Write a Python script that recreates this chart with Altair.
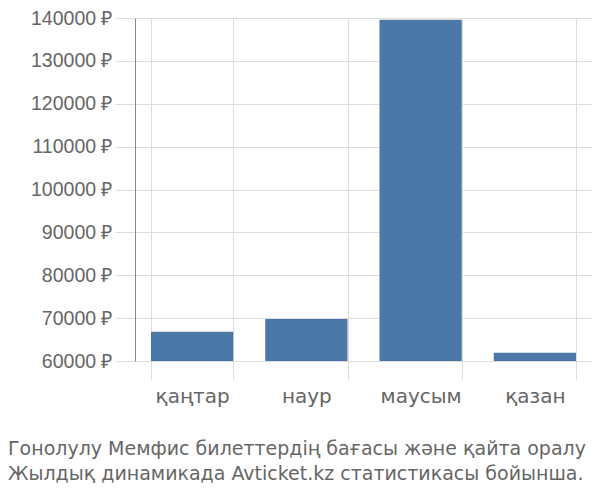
import altair as alt
import pandas as pd

months = ["қаңтар", "наур", "маусым", "қазан"]
prices = [66800, 69800, 139600, 61900]
base = [60000, 60000, 60000, 60000]
title_lines = ["Гонолулу Мемфис билеттердің бағасы және қайта оралу",
               "Жылдық динамикада Avticket.kz статистикасы бойынша."]
y_ticks = [60000, 70000, 80000, 90000, 100000, 110000, 120000, 130000, 140000]

df = pd.DataFrame({"month": months, "price": prices, "base": base})

chart = alt.Chart(df).mark_bar(color="#4c78a8").encode(
    x=alt.X("month:N", sort=months, title=None,
            scale=alt.Scale(paddingInner=0.28, paddingOuter=0.14),
            axis=alt.Axis(tickBand="extent", grid=True, domain=False,
                          tickSize=19, tickColor="#dddddd", gridColor="#dddddd",
                          labelAngle=0, labelFontSize=20, labelColor="#666666",
                          labelFont="DejaVu Sans", labelPadding=6)),
    y=alt.Y("price:Q", title=None,
            scale=alt.Scale(domain=[60000, 140000], zero=False, nice=False),
            axis=alt.Axis(values=y_ticks, labelExpr="datum.value + ' ₽'",
                          tickSize=20, tickColor="#dddddd", gridColor="#dddddd",
                          domainColor="#888888", labelFontSize=19.5,
                          labelColor="#666666", labelFont="Liberation Sans",
                          labelPadding=3)),
    y2="base:Q",
).properties(
    width=457, height=343,
    autosize=alt.AutoSizeParams(type="none"),
    padding={"left": 127, "top": 10, "right": 0, "bottom": 125},
    title=alt.TitleParams(text=title_lines, orient="bottom", anchor="start",
                          frame="group", dx=-127, offset=34,
                          font="DejaVu Sans", fontSize=19,
                          fontWeight="normal", color="#666666", lineHeight=25),
).configure_view(stroke=None)

chart.save("out.html", embed_options={"renderer": "svg", "actions": False})
